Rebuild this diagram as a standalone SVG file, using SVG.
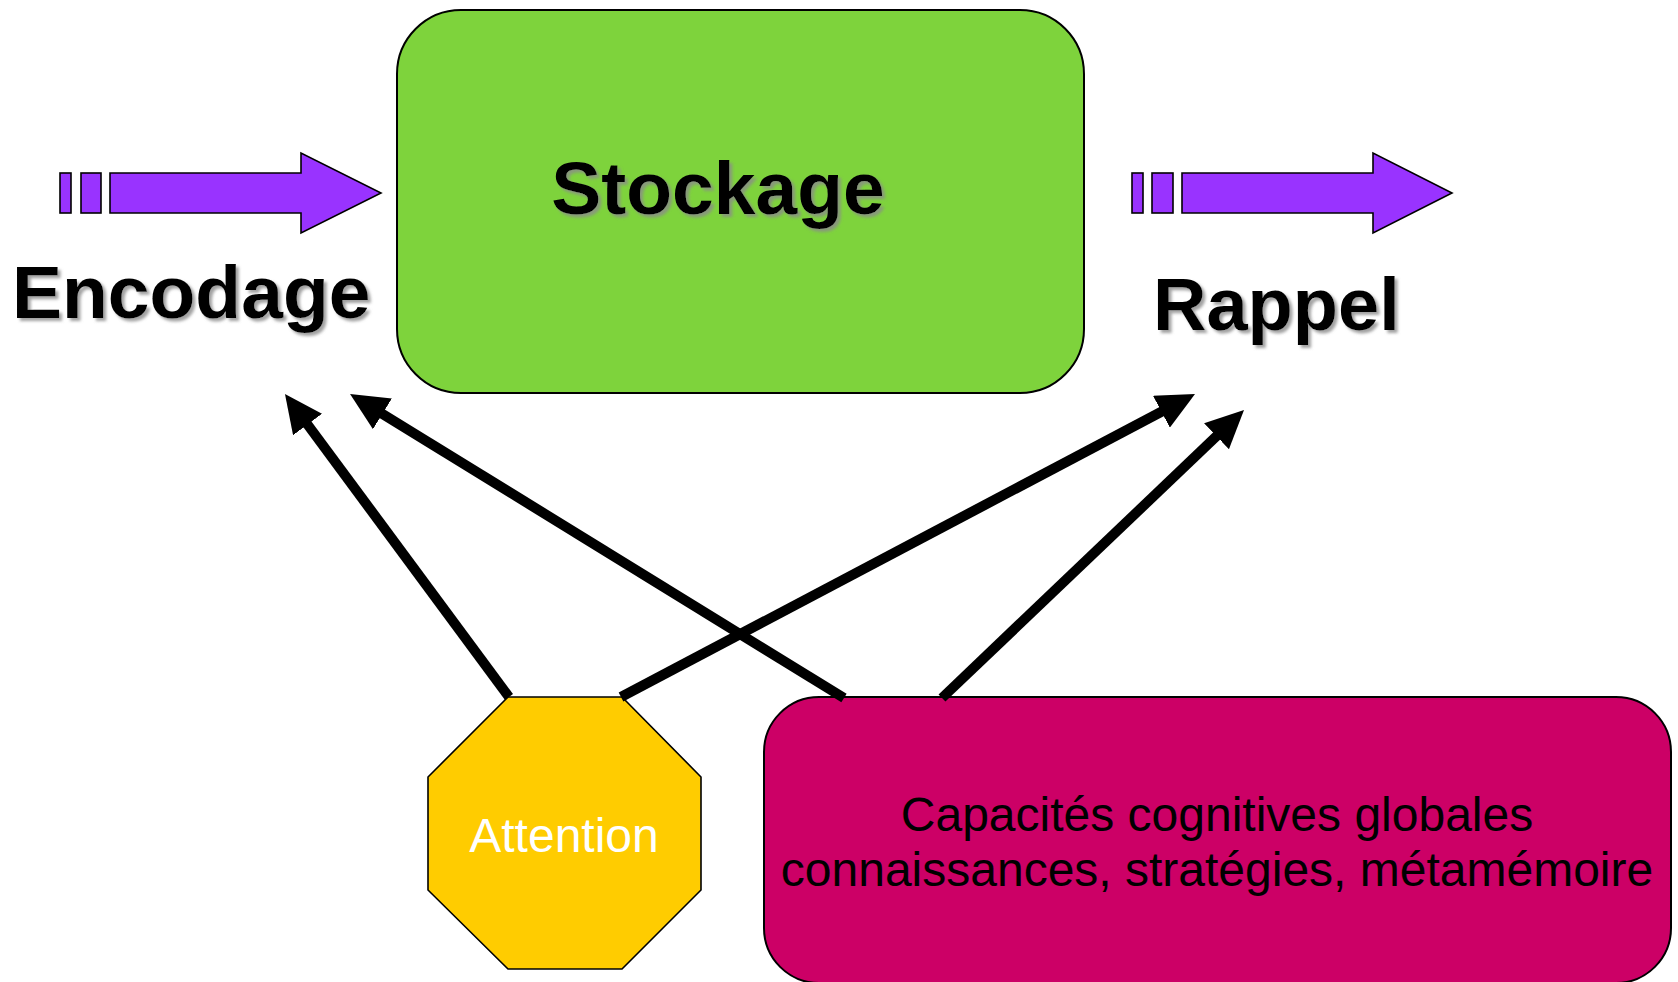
<svg xmlns="http://www.w3.org/2000/svg" width="1678" height="982" viewBox="0 0 1678 982">
  <defs>
    <style>
      .title { font-family: "Liberation Sans", Arial, sans-serif; font-weight: bold; font-size: 75px; fill: #000; }
      .body { font-family: "Liberation Sans", Arial, sans-serif; font-size: 48px; }
      .flow { fill: #9933FF; stroke: #000; stroke-width: 1.6; }
      .link { stroke: #000; stroke-width: 10; fill: none; marker-end: url(#head); }
    </style>
    <filter id="shadow" x="-10%" y="-20%" width="120%" height="150%">
      <feDropShadow dx="3" dy="3" stdDeviation="1.4" flood-color="#8a8a8a" flood-opacity="0.8"/>
    </filter>
    <marker id="head" viewBox="0 0 38 36" refX="8" refY="18" markerUnits="userSpaceOnUse" markerWidth="38" markerHeight="36" orient="auto">
      <path d="M0,0 L38,18 L0,36 z" fill="#000"/>
    </marker>
  </defs>

  <rect width="1678" height="982" fill="#fff"/>

  <!-- Storage box -->
  <g id="stockage">
    <rect x="397" y="10" width="687" height="383" rx="64" ry="64" fill="#7ED33C" stroke="#000" stroke-width="2"/>
    <text class="title" x="718" y="214" text-anchor="middle" filter="url(#shadow)">Stockage</text>
  </g>

  <!-- Encoding stage -->
  <g id="encodage">
    <rect class="flow" x="60" y="173" width="11" height="40"/>
    <rect class="flow" x="81" y="173" width="20" height="40"/>
    <path class="flow" d="M110,173 H301 V153 L381,193 L301,233 V213 H110 z"/>
    <text class="title" x="12" y="318" filter="url(#shadow)">Encodage</text>
  </g>

  <!-- Retrieval stage -->
  <g id="rappel">
    <rect class="flow" x="1132" y="173" width="11" height="40"/>
    <rect class="flow" x="1152" y="173" width="21" height="40"/>
    <path class="flow" d="M1182,173 H1373 V153 L1452,193 L1373,233 V213 H1182 z"/>
    <text class="title" x="1153" y="330" style="font-size:74px" filter="url(#shadow)">Rappel</text>
  </g>

  <!-- Attention octagon -->
  <g id="attention">
    <polygon points="508,697 622,697 701,777 701,890 622,969 508,969 428,890 428,777" fill="#FFCC00" stroke="#000" stroke-width="1.6"/>
    <text class="body" x="564" y="852" text-anchor="middle" fill="#fff">Attention</text>
  </g>

  <!-- Global cognitive capacities -->
  <g id="capacites">
    <rect x="764" y="697" width="907" height="286" rx="55" ry="55" fill="#CC0066" stroke="#000" stroke-width="2"/>
    <text class="body" x="1217" y="831" text-anchor="middle" fill="#000">Capacités cognitives globales</text>
    <text class="body" x="1217" y="886" text-anchor="middle" fill="#000">connaissances, stratégies, métamémoire</text>
  </g>

  <!-- Influence connectors -->
  <g id="connectors">
    <line class="link" x1="509" y1="697" x2="302.8" y2="418.1"/>
    <line class="link" x1="844" y1="698" x2="375.6" y2="409.7"/>
    <line class="link" x1="621" y1="697" x2="1168.5" y2="408.0"/>
    <line class="link" x1="942" y1="698" x2="1222.3" y2="430.7"/>
  </g>
</svg>
